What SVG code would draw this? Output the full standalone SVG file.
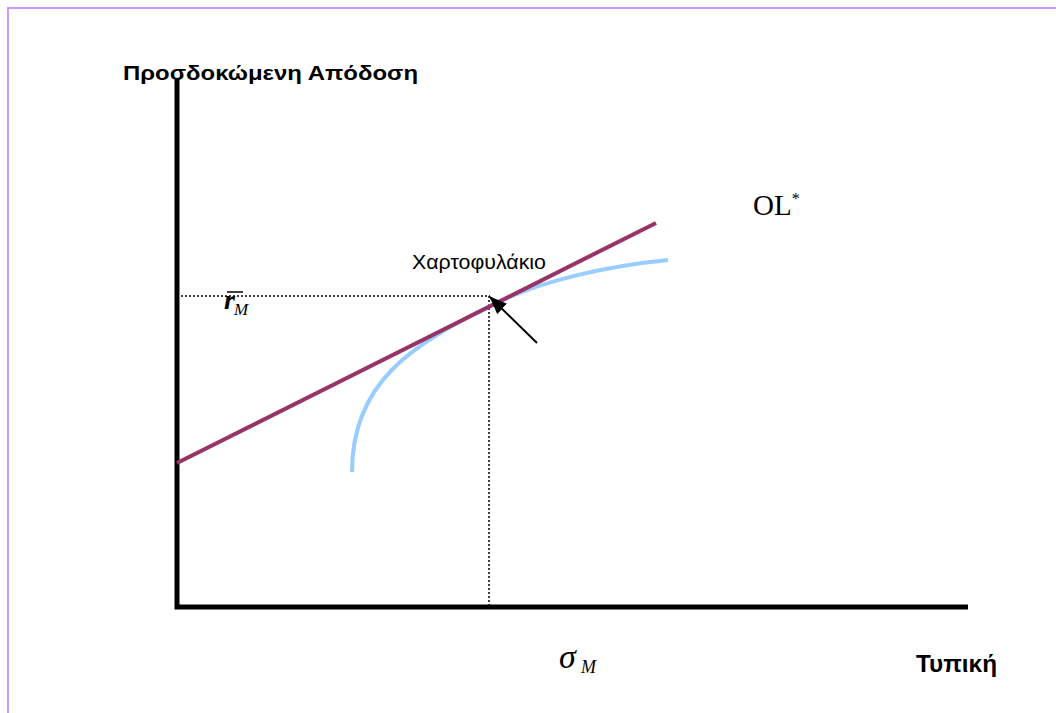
<svg xmlns="http://www.w3.org/2000/svg" width="1056" height="713" viewBox="0 0 1056 713">
<defs>
<style>
.axis{stroke:#000;stroke-width:5;fill:none}
.dot{stroke:#000;stroke-width:1.5;stroke-dasharray:2,2;fill:none}
.sans{font-family:"Liberation Sans",Arial,sans-serif}
.serif{font-family:"Liberation Serif","Times New Roman",serif}
</style>
<marker id="ah" markerWidth="18" markerHeight="14" refX="17" refY="7" orient="auto" markerUnits="userSpaceOnUse" viewBox="0 0 18 14">
<path d="M0,0 L18,7 L0,14 z" fill="#000"/>
</marker>
</defs>
<rect width="1056" height="713" fill="#fff"/>
<path d="M8,713 V8 H1056" stroke="#cc99ff" stroke-width="2" fill="none"/>
<g id="axes">
<path class="axis" d="M177,78 V607 H968"/>
</g>
<g id="connectors">
<path class="dot" d="M177,296 H490"/>
<path class="dot" d="M489,296 V607"/>
<path d="M352,472 C352,382 412,345 492,305 C542,280 608,266 668,260" stroke="#99ccff" stroke-width="4" fill="none"/>
<path d="M177,463 L656,223" stroke="#993366" stroke-width="4" fill="none"/>
<path d="M537,343 L490,297" stroke="#000" stroke-width="2" fill="none" marker-end="url(#ah)"/>
</g>
<g id="labels">
<text class="sans" x="123" y="80" font-size="21" font-weight="bold" textLength="295" lengthAdjust="spacingAndGlyphs">Προσδοκώμενη Απόδοση</text>
<text class="sans" x="412" y="269" font-size="21" textLength="134" lengthAdjust="spacingAndGlyphs">Χαρτοφυλάκιο</text>
<text class="serif" x="753" y="215" font-size="29">OL<tspan font-size="16" dy="-11">*</tspan></text>
<text class="serif" x="224" y="309" font-size="28" font-style="italic" font-weight="bold">r</text>
<line x1="227" y1="292" x2="243" y2="292" stroke="#000" stroke-width="1.5"/>
<text class="serif" x="234" y="315" font-size="17" font-style="italic">M</text>
<text class="serif" x="559" y="668" font-size="34" font-style="italic">σ</text>
<text class="serif" x="581" y="673" font-size="18" font-style="italic">M</text>
<text class="sans" x="916" y="672" font-size="23" font-weight="bold" textLength="81" lengthAdjust="spacingAndGlyphs">Τυπική</text>
</g>
</svg>
